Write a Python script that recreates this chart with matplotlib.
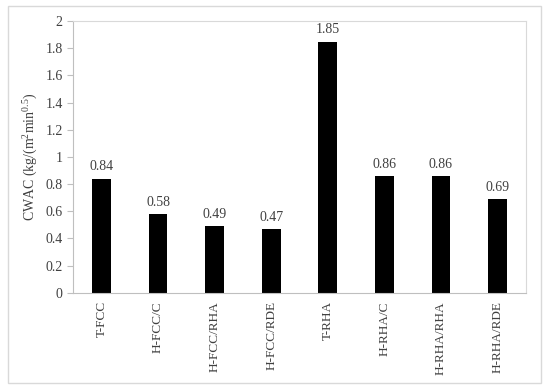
import matplotlib.pyplot as plt
from matplotlib.patches import Rectangle

categories = ["T-FCC", "H-FCC/C", "H-FCC/RHA", "H-FCC/RDE",
              "T-RHA", "H-RHA/C", "H-RHA/RHA", "H-RHA/RDE"]
cwac = [0.84, 0.58, 0.49, 0.47, 1.85, 0.86, 0.86, 0.69]

plt.rcParams['font.family'] = ['Liberation Serif', 'DejaVu Serif']
plt.rcParams['font.size'] = 10
plt.rcParams['mathtext.fontset'] = 'custom'
plt.rcParams['mathtext.rm'] = 'Liberation Serif'
plt.rcParams['mathtext.it'] = 'Liberation Serif:italic'

fig = plt.figure(figsize=(5.5, 3.92), dpi=100)
ax = fig.add_axes([0.133, 0.253, 0.823, 0.693])

x = range(len(categories))
ax.bar(x, cwac, width=0.33, color='black')
for xi, v in zip(x, cwac):
    ax.text(xi, v + 0.04, f"{v:.2f}", ha='center', va='bottom', color='#404040')

ax.set_xlim(-0.5, len(categories) - 0.5)
ax.set_ylim(0, 2)
ax.set_yticks([i * 0.2 for i in range(11)])
ax.set_yticklabels(["0", "0.2", "0.4", "0.6", "0.8", "1", "1.2", "1.4", "1.6", "1.8", "2"])
ax.set_xticks(list(x))
ax.set_xticklabels(categories, rotation=90, fontsize=9.5)
ax.tick_params(axis='x', length=0, pad=6, colors='#404040')
ax.tick_params(axis='y', length=4, color='#bfbfbf', colors='#404040')
ax.set_ylabel(r"CWAC (kg/(m$^{\mathrm{2}}$min$^{\mathrm{0.5}}$)", color='#404040')

for side in ['left', 'bottom']:
    ax.spines[side].set_color('#bfbfbf')
for side in ['top', 'right']:
    ax.spines[side].set_color('#d9d9d9')

fig.patches.append(Rectangle((0.015, 0.022), 0.968, 0.962, transform=fig.transFigure,
                             fill=False, edgecolor='#d9d9d9', linewidth=1))

fig.savefig("out.png", dpi=100)
